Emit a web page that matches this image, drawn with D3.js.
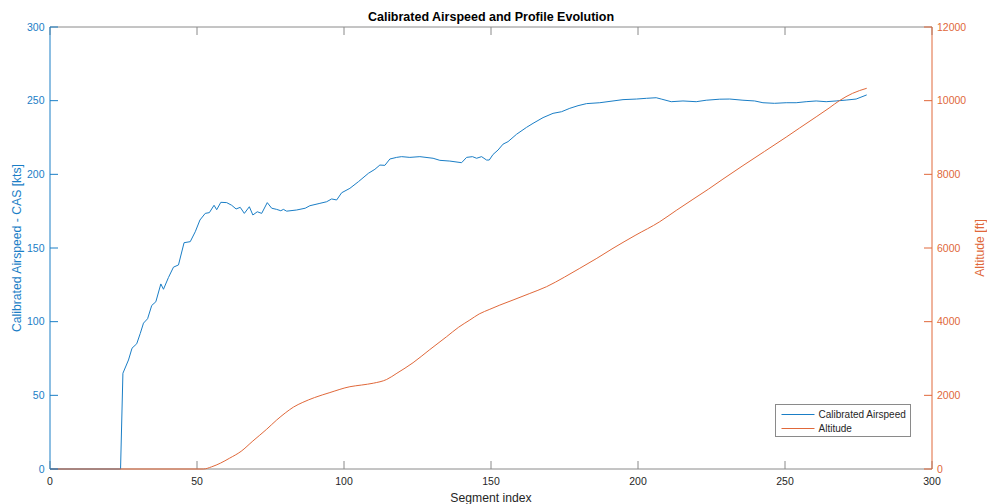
<!DOCTYPE html>
<html>
<head>
<meta charset="utf-8">
<script src="https://cdn.jsdelivr.net/npm/d3@7"></script>
<style>
  body { margin: 0; background: #fff; }
  svg { font-family: 'Liberation Sans', Arial, sans-serif; }
</style>
</head>
<body>
<svg id="viz" width="987" height="504"></svg>
<script>
/* Data */

const xTicks = [0, 50, 100, 150, 200, 250, 300];
const casTicks = [0, 50, 100, 150, 200, 250, 300];
const altTicks = [0, 2000, 4000, 6000, 8000, 10000, 12000];

// calibrated airspeed [kts] by segment index
const casIndex = [0, 24, 24.8, 26.7, 27.9, 29.5, 30.7, 31.8, 33.2, 34.6, 36, 37.7, 38.6, 40.3, 42, 43.7, 45.6, 47.7, 49.4, 51, 52.8, 54.2, 55.8, 56.7, 58.1, 60.1, 61.8, 63.3, 64.7, 66.1, 67.8, 69, 70.5, 72, 73.9, 75.4, 77.1, 78.5, 79.4, 80.5, 83.9, 86.8, 88.4, 91.8, 94.1, 95.8, 97.5, 99.2, 102, 104.9, 108.3, 110.5, 112.2, 113.9, 115.6, 117.9, 119.6, 122.4, 125.8, 130.3, 132.6, 136, 140, 141.7, 143.7, 145.1, 146.8, 148.5, 149.4, 150.7, 152.4, 154.1, 155.8, 158.7, 162.1, 164.3, 167.7, 171.1, 174, 176.8, 179.6, 182.5, 187, 191.5, 194.9, 199.5, 202.9, 206.2, 207.9, 211.3, 215.3, 219.8, 223.2, 227.8, 231.2, 235.7, 239.7, 242.5, 246.4, 250.4, 253.8, 257.2, 260.6, 264, 267.4, 270.8, 274.2, 277.8];
const casValues = [0, 0, 65, 74, 82, 85, 92, 99, 102, 111, 113.5, 125.6, 122, 130, 137, 138.5, 153.6, 154.3, 161, 169, 173.5, 174, 179, 176, 181, 180.8, 179, 176.5, 177.6, 173.5, 178, 172.4, 174.6, 173.5, 180.8, 177, 176.2, 175.3, 176.2, 175, 175.8, 177, 178.7, 180.3, 181.4, 183.3, 182.6, 187.5, 190.5, 195, 200.7, 203.4, 206.3, 206.1, 210.4, 211.5, 212, 211.5, 212, 210.9, 209.5, 209, 207.9, 211.5, 212, 210.9, 212, 209.7, 209.7, 213.5, 216.5, 220.5, 222.2, 227.2, 231.9, 234.6, 238.5, 241.4, 242.5, 244.8, 246.6, 248, 248.6, 249.8, 250.7, 251.1, 251.6, 252, 251.1, 249.3, 249.8, 249.3, 250.3, 251, 251.1, 250.3, 249.8, 248.6, 248.2, 248.6, 248.6, 249.3, 249.8, 249.3, 249.8, 250.4, 251.1, 253.9];

// altitude [ft] by segment index
const altIndex = [0, 52.2, 55, 58, 61, 65, 69, 73.7, 77.1, 80, 82.8, 86, 90, 95.2, 102, 106, 110, 114.5, 118, 123.5, 129, 134.9, 139, 142.8, 146, 149.6, 153, 157.5, 163, 168.9, 175, 180.2, 186, 191.5, 199, 207.4, 213, 218.7, 224, 228.9, 235.7, 243, 250.4, 255, 260.6, 265, 268.5, 273, 277.8];
const altValues = [0, 0, 60, 160, 290, 480, 760, 1080, 1330, 1520, 1680, 1810, 1940, 2075, 2234, 2280, 2330, 2430, 2600, 2886, 3230, 3592, 3850, 4045, 4210, 4336, 4450, 4588, 4760, 4950, 5210, 5449, 5720, 5992, 6340, 6714, 7020, 7322, 7600, 7871, 8237, 8620, 9010, 9260, 9560, 9800, 10000, 10200, 10336];

const seriesNames = ['Calibrated Airspeed', 'Altitude'];

/* Visualization */

const blue = '#1a7ec6';
const orange = '#e0683a';
const gray = '#8a8a8a';
const ink = '#262626';

const plotLeft = 50;
const plotRight = 932;
const plotTop = 27;
const plotBottom = 469;

const svg = d3.select('#viz');

// prepare scales
const xScale = d3.scaleLinear().domain([0, 300]).range([plotLeft, plotRight]);
const casScale = d3.scaleLinear().domain([0, 300]).range([plotBottom, plotTop]);
const altScale = d3.scaleLinear().domain([0, 12000]).range([plotBottom, plotTop]);

// box top and bottom
svg.append('line')
  .attr('x1', plotLeft).attr('x2', plotRight).attr('y1', plotTop).attr('y2', plotTop)
  .attr('stroke', gray);
svg.append('line')
  .attr('x1', plotLeft).attr('x2', plotRight).attr('y1', plotBottom).attr('y2', plotBottom)
  .attr('stroke', gray);

// x ticks (inward, top and bottom)
const xAxis = svg.append('g');
xAxis.selectAll('line.b')
  .data(xTicks)
  .join('line')
  .attr('class', 'b')
  .attr('x1', d => xScale(d)).attr('x2', d => xScale(d))
  .attr('y1', plotBottom).attr('y2', plotBottom - 8)
  .attr('stroke', gray);
xAxis.selectAll('line.t')
  .data(xTicks)
  .join('line')
  .attr('class', 't')
  .attr('x1', d => xScale(d)).attr('x2', d => xScale(d))
  .attr('y1', plotTop).attr('y2', plotTop + 8)
  .attr('stroke', gray);
xAxis.selectAll('text')
  .data(xTicks)
  .join('text')
  .attr('x', d => xScale(d))
  .attr('y', 485)
  .attr('text-anchor', 'middle')
  .attr('font-size', 10.5)
  .attr('fill', ink)
  .text(d => d);

// lines
const casLine = d3.line()
  .x((d, i) => xScale(casIndex[i]))
  .y(d => casScale(d));

const altLine = d3.line()
  .x((d, i) => xScale(altIndex[i]))
  .y(d => altScale(d))
  .curve(d3.curveMonotoneX);

svg.append('path')
  .attr('fill', 'none')
  .attr('stroke', blue)
  .attr('stroke-width', 1)
  .attr('d', casLine(casValues));

svg.append('path')
  .attr('fill', 'none')
  .attr('stroke', orange)
  .attr('stroke-width', 1)
  .attr('d', altLine(altValues));

// left axis
const yLeft = svg.append('g');
yLeft.append('line')
  .attr('x1', plotLeft).attr('x2', plotLeft).attr('y1', plotTop).attr('y2', plotBottom)
  .attr('stroke', blue);
yLeft.selectAll('line.tick')
  .data(casTicks)
  .join('line')
  .attr('class', 'tick')
  .attr('x1', plotLeft).attr('x2', plotLeft + 8)
  .attr('y1', d => casScale(d)).attr('y2', d => casScale(d))
  .attr('stroke', blue);
yLeft.selectAll('text')
  .data(casTicks)
  .join('text')
  .attr('x', 44.5)
  .attr('y', d => casScale(d) + 3.8)
  .attr('text-anchor', 'end')
  .attr('font-size', 10.5)
  .attr('fill', blue)
  .text(d => d);

// right axis
const yRight = svg.append('g');
yRight.append('line')
  .attr('x1', plotRight).attr('x2', plotRight).attr('y1', plotTop).attr('y2', plotBottom)
  .attr('stroke', orange);
yRight.selectAll('line.tick')
  .data(altTicks)
  .join('line')
  .attr('class', 'tick')
  .attr('x1', plotRight).attr('x2', plotRight - 8)
  .attr('y1', d => altScale(d)).attr('y2', d => altScale(d))
  .attr('stroke', orange);
yRight.selectAll('text')
  .data(altTicks)
  .join('text')
  .attr('x', 937)
  .attr('y', d => altScale(d) + 3.8)
  .attr('text-anchor', 'start')
  .attr('font-size', 10.5)
  .attr('fill', orange)
  .text(d => d);

// titles
svg.append('text')
  .attr('x', (plotLeft + plotRight) / 2)
  .attr('y', 20.5)
  .attr('text-anchor', 'middle')
  .attr('font-size', 12.5)
  .attr('font-weight', 'bold')
  .attr('fill', '#000')
  .text('Calibrated Airspeed and Profile Evolution');

svg.append('text')
  .attr('x', (plotLeft + plotRight) / 2)
  .attr('y', 501.5)
  .attr('text-anchor', 'middle')
  .attr('font-size', 12.2)
  .attr('fill', ink)
  .text('Segment index');

svg.append('text')
  .attr('transform', 'translate(21,' + (plotTop + plotBottom) / 2 + ') rotate(-90)')
  .attr('text-anchor', 'middle')
  .attr('font-size', 12.2)
  .attr('fill', blue)
  .text('Calibrated Airspeed - CAS [kts]');

svg.append('text')
  .attr('transform', 'translate(984,' + (plotTop + plotBottom) / 2 + ') rotate(-90)')
  .attr('text-anchor', 'middle')
  .attr('font-size', 12.2)
  .attr('fill', orange)
  .text('Altitude [ft]');

// legend
const legend = svg.append('g');
legend.append('rect')
  .attr('x', 775.5).attr('y', 404.5)
  .attr('width', 135).attr('height', 32)
  .attr('fill', '#fff')
  .attr('stroke', gray);
legend.selectAll('line')
  .data(seriesNames)
  .join('line')
  .attr('x1', 781.5).attr('x2', 814.5)
  .attr('y1', (d, i) => 414.5 + i * 14).attr('y2', (d, i) => 414.5 + i * 14)
  .attr('stroke', (d, i) => (i === 0 ? blue : orange));
legend.selectAll('text')
  .data(seriesNames)
  .join('text')
  .attr('x', 818.5)
  .attr('y', (d, i) => 418 + i * 14)
  .attr('font-size', 10)
  .attr('fill', ink)
  .text(d => d);
</script>
</body>
</html>
